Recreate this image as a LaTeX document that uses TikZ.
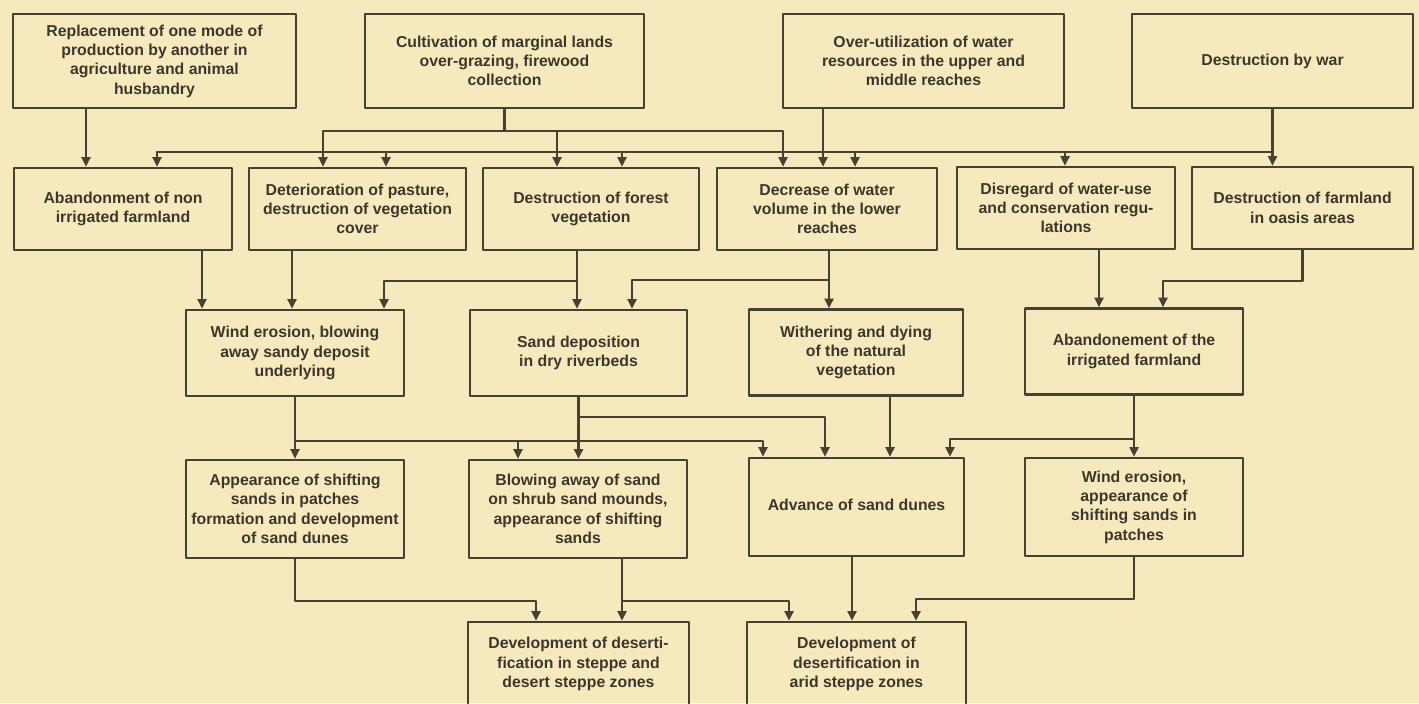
\documentclass[tikz,border=0pt]{standalone}
\usepackage{fontspec}
\setmainfont{Liberation Sans}
\usepackage{tikz}
\usetikzlibrary{arrows.meta}

\definecolor{paper}{RGB}{247,233,190}
\definecolor{ink}{RGB}{70,66,50}

\begin{document}
\begin{tikzpicture}[line cap=round,line join=round,>={Triangle[length=5.5pt,width=5pt]},x=0.02cm,y=-0.02cm,
	box/.style={draw=ink, line width=1.3pt, align=center, inner sep=1pt, text=ink!85!black,
		font=\bfseries\fontsize{9}{11}\selectfont},
	rowA/.style={box, minimum height=1.88cm},
	rowB/.style={box, minimum height=1.64cm},
	rowC/.style={box, minimum height=1.72cm},
	rowD/.style={box, minimum height=1.96cm},
	rowE/.style={box, minimum height=1.68cm},
	link/.style={draw=ink, line width=1.5pt}]
			\fill[paper] (0,0) rectangle (1419,703);
			\useasboundingbox (0,0) rectangle (1419,703);
			% causes
			\node[rowA, minimum width=5.66cm] (replace) at (154.5,61) {Replacement of one mode of\\production by another in\\agriculture and animal\\husbandry};
			\node[rowA, minimum width=5.58cm] (cultiv) at (504.5,61) {Cultivation of marginal lands\\over-grazing, firewood\\collection};
			\node[rowA, minimum width=5.62cm] (overuse) at (923.5,61) {Over-utilization of water\\resources in the upper and\\middle reaches};
			\node[rowA, minimum width=5.62cm] (war) at (1272.5,61) {Destruction by war};
			% first effects
			\node[rowB, minimum width=4.36cm] (abandon) at (123,209) {Abandonment of non\\irrigated farmland};
			\node[rowB, minimum width=4.34cm] (pasture) at (357.5,209) {Deterioration of pasture,\\destruction of vegetation\\cover};
			\node[rowB, minimum width=4.32cm] (forest) at (591,209) {Destruction of forest\\vegetation};
			\node[rowB, minimum width=4.4cm] (water) at (827,209) {Decrease of water\\volume in the lower\\reaches};
			\node[rowB, minimum width=4.36cm] (disregard) at (1066,208) {Disregard of water-use\\and conservation regu-\\lations};
			\node[rowB, minimum width=4.42cm] (oasis) at (1302.5,208) {Destruction of farmland\\in oasis areas};
			% second effects
			\node[rowC, minimum width=4.36cm] (winderosion) at (295,353) {Wind erosion, blowing\\away sandy deposit\\underlying};
			\node[rowC, minimum width=4.34cm] (sanddep) at (578.5,353) {Sand deposition\\in dry riverbeds};
			\node[rowC, minimum width=4.28cm] (wither) at (856,352.5) {Withering and dying\\of the natural\\vegetation};
			\node[rowC, minimum width=4.36cm] (irrig) at (1134,351.5) {Abandonement of the\\irrigated farmland};
			% sand
			\node[rowD, minimum width=4.36cm] (patches) at (295,509) {Appearance of shifting\\sands in patches\\formation and development\\of sand dunes};
			\node[rowD, minimum width=4.36cm] (mounds) at (578,509) {Blowing away of sand\\on shrub sand mounds,\\appearance of shifting\\sands};
			\node[rowD, minimum width=4.3cm] (dunes) at (856.5,507) {\raisebox{3pt}{Advance of sand dunes}};
			\node[rowD, minimum width=4.36cm] (windpatch) at (1134,507) {Wind erosion,\\appearance of\\shifting sands in\\patches};
			% desertification
			\node[rowE, minimum width=4.42cm] (steppe) at (578.5,664) {Development of deserti-\\fication in steppe and\\desert steppe zones};
			\node[rowE, minimum width=4.38cm] (arid) at (856.5,664) {Development of\\desertification in\\arid steppe zones};
			% first row to second row
			\draw[link,->] (replace.south -| 86,0) -- (abandon.north -| 86,0);
			\draw[link,->] (cultiv.south) |- (323,131) -- (pasture.north -| 323,0);
			\draw[link,->] (cultiv.south) |- (557,131) -- (forest.north -| 557,0);
			\draw[link,->] (cultiv.south) |- (783,131) -- (water.north -| 783,0);
			\draw[link,->] (overuse.south -| 823,0) -- (water.north -| 823,0);
			\draw[link,->] (war.south) -- (oasis.north -| war.south);
			\draw[link,->] (war.south) |- (157,152) -- (abandon.north -| 157,0);
			\draw[link,->] (war.south) |- (386,152) -- (pasture.north -| 386,0);
			\draw[link,->] (war.south) |- (622,152) -- (forest.north -| 622,0);
			\draw[link,->] (war.south) |- (855,152) -- (water.north -| 855,0);
			\draw[link,->] (war.south) |- (1065,152) -- (disregard.north -| 1065,0);
			% second row to third row
			\draw[link,->] (abandon.south -| 202,0) -- (winderosion.north -| 202,0);
			\draw[link,->] (pasture.south -| 292,0) -- (winderosion.north -| 292,0);
			\draw[link,->] (forest.south -| 577,0) -- (sanddep.north -| 577,0);
			\draw[link,->] (forest.south -| 577,0) |- (384,281) -- (winderosion.north -| 384,0);
			\draw[link,->] (water.south -| 829,0) -- (wither.north -| 829,0);
			\draw[link,->] (water.south -| 829,0) |- (632,280) -- (sanddep.north -| 632,0);
			\draw[link,->] (disregard.south -| 1099,0) -- (irrig.north -| 1099,0);
			\draw[link,->] (oasis.south) |- (1163,281) -- (irrig.north -| 1163,0);
			% third row to fourth row
			\draw[link,->] (winderosion.south) -- (patches.north);
			\draw[link,->] (winderosion.south) |- (518,441) -- (mounds.north -| 518,0);
			\draw[link,->] (winderosion.south) |- (763,441) -- (dunes.north -| 763,0);
			\draw[link,->] (sanddep.south) -- (mounds.north -| sanddep.south);
			\draw[link,->] (sanddep.south) |- (825,417) -- (dunes.north -| 825,0);
			\draw[link,->] (wither.south -| 890,0) -- (dunes.north -| 890,0);
			\draw[link,->] (irrig.south) -- (windpatch.north -| irrig.south);
			\draw[link,->] (irrig.south) |- (950,439) -- (dunes.north -| 950,0);
			% fourth row to fifth row
			\draw[link,->] (patches.south) |- (536,601) -- (steppe.north -| 536,0);
			\draw[link,->] (mounds.south -| 622,0) -- (steppe.north -| 622,0);
			\draw[link,->] (mounds.south -| 622,0) |- (789,601) -- (arid.north -| 789,0);
			\draw[link,->] (dunes.south -| 852,0) -- (arid.north -| 852,0);
			\draw[link,->] (windpatch.south) |- (916,599) -- (arid.north -| 916,0);
\end{tikzpicture}
\end{document}
